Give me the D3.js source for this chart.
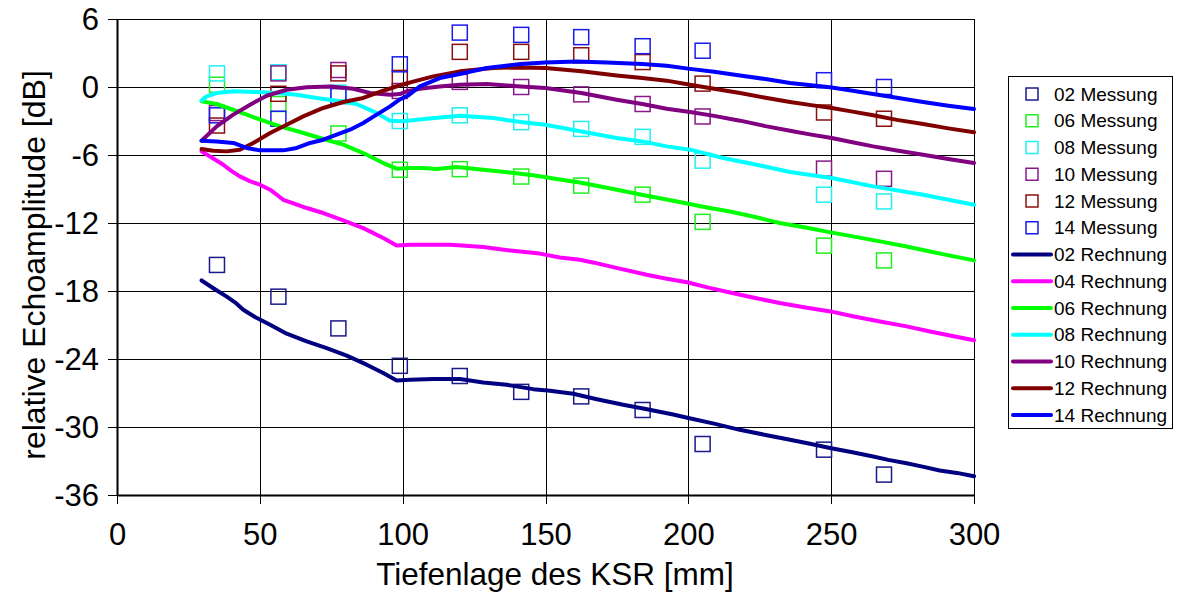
<!DOCTYPE html>
<html>
<head>
<meta charset="utf-8">
<script src="https://cdn.jsdelivr.net/npm/d3@7"></script>
<style>
  html, body { margin: 0; padding: 0; background: #fff; }
  svg { display: block; font-family: "Liberation Sans", Arial, sans-serif; }
</style>
</head>
<body>
<svg id="chart" width="1180" height="595"></svg>
<script>
// Depth positions of the measurements [mm]
const depthMeas = [35, 56.5, 77.5, 99, 120, 141.5, 162.5, 184, 205, 247.5, 268.5];

// Measured echo amplitudes [dB]
const mess02 = [-15.7, -18.5, -21.3, -24.6, -25.5, -26.9, -27.3, -28.5, -31.5, -32.0, -34.2];
const mess06 = [0.2, -1.5, -4.1, -7.3, -7.25, -7.9, -8.7, -9.5, -11.9, -14.0, -15.3];
const mess08 = [1.2, 1.3, -0.5, -3.0, -2.5, -3.1, -3.7, -4.4, -6.5, -9.5, -10.1];
const mess10 = [-2.3, 1.2, 1.5, -0.35, 0.45, 0.0, -0.65, -1.5, -2.6, -7.2, -8.1];
const mess12 = [-3.4, -0.6, 1.2, 0.8, 3.1, 3.1, 2.8, 2.2, 0.3, -2.25, -2.8];
const mess14 = [-2.5, -2.8, -0.8, 2.0, 4.8, 4.6, 4.4, 3.6, 3.2, 0.6, 0.0];

// Calculated curves: [depth mm, amplitude dB]
const rech02 = [[29.6,-17.07],[34,-17.8],[38.4,-18.5],[41.3,-19.0],[44.2,-19.66],[48.3,-20.3],[53.6,-20.98],[59.4,-21.77],[66.4,-22.45],[73.4,-23.04],[80.4,-23.7],[87.4,-24.5],[93.2,-25.24],[97.9,-25.9],[102.6,-25.83],[110.7,-25.77],[120,-25.77],[128.2,-26.07],[136.4,-26.28],[145.7,-26.66],[151.6,-26.8],[159.7,-27.07],[168,-27.55],[177.2,-28.04],[186,-28.45],[194.7,-28.9],[200,-29.2],[209,-29.7],[218,-30.25],[227,-30.7],[235.6,-31.13],[243,-31.5],[250,-31.87],[257,-32.2],[264.7,-32.6],[270,-32.9],[276.4,-33.2],[282,-33.5],[288,-33.84],[294,-34.05],[300,-34.35]];
const rech04 = [[29.6,-5.68],[33,-6.2],[37.2,-6.86],[40,-7.4],[43,-7.89],[46.5,-8.3],[50,-8.62],[53.6,-9.06],[58.2,-9.95],[62,-10.3],[66.4,-10.68],[72.2,-11.12],[79.2,-11.77],[86.2,-12.45],[93.2,-13.33],[97.9,-13.98],[102.6,-13.92],[110,-13.92],[116.6,-13.92],[122,-14.0],[128.2,-14.12],[137.6,-14.42],[148,-14.7],[155,-15.05],[162,-15.24],[167,-15.5],[173.7,-15.89],[185.4,-16.57],[192,-16.9],[200,-17.25],[207,-17.7],[214.6,-18.13],[223,-18.6],[232,-19.06],[241,-19.45],[249.8,-19.8],[258,-20.25],[267.1,-20.69],[276,-21.1],[284.6,-21.57],[292,-21.95],[300,-22.35]];
const rech06 = [[29.6,-1.27],[34.9,-1.5],[39.6,-1.92],[45.4,-2.44],[51.2,-2.97],[57.1,-3.47],[64.1,-3.97],[72.2,-4.59],[79.2,-5.09],[86.2,-5.83],[93.2,-6.71],[97.9,-7.21],[102.6,-7.15],[107.2,-7.15],[111.9,-7.24],[118.9,-7.06],[128.2,-7.3],[137.6,-7.54],[146.9,-7.83],[153.9,-8.12],[162,-8.42],[173.7,-9.0],[185.4,-9.59],[192,-9.9],[200,-10.3],[207,-10.65],[214.6,-10.98],[223,-11.45],[232,-12.0],[241,-12.4],[249.8,-12.83],[258,-13.2],[267.1,-13.62],[276,-14.05],[284.6,-14.51],[292,-14.9],[300,-15.3]];
const rech08 = [[29.6,-1.2],[31.4,-0.83],[34.9,-0.53],[40.7,-0.38],[48.9,-0.44],[55.9,-0.53],[62.9,-0.68],[69.9,-0.97],[76.9,-1.21],[83.8,-1.5],[89.7,-2.15],[95.6,-2.97],[100.2,-3.03],[108.4,-2.8],[120,-2.53],[131.7,-2.74],[141.3,-3.09],[150,-3.33],[162.6,-3.92],[174.9,-4.5],[183.9,-4.8],[192.4,-5.24],[200.6,-5.53],[212.2,-6.27],[223.9,-6.86],[235.6,-7.5],[250.2,-8.03],[264.7,-8.77],[282.2,-9.5],[291,-9.95],[300,-10.39]];
const rech10 = [[29.6,-4.74],[34.9,-3.47],[40.7,-2.44],[46.6,-1.56],[52.4,-0.77],[59.4,-0.24],[66.4,-0.03],[74.6,0.05],[82.7,-0.15],[88.6,-0.53],[95.6,-0.68],[99,-0.62],[101.4,-0.38],[106,-0.15],[113,0.05],[120,0.2],[129.4,0.26],[141.3,0.05],[150,-0.09],[162.6,-0.53],[174.9,-1.12],[183.9,-1.5],[192.4,-1.92],[200.6,-2.2],[209,-2.55],[218.1,-2.97],[227,-3.45],[235.6,-3.86],[243,-4.2],[250.2,-4.5],[257,-4.85],[264.7,-5.24],[273,-5.6],[282.2,-5.98],[291,-6.35],[300,-6.71]];
const rech12 = [[29.6,-5.47],[33.7,-5.62],[38.4,-5.68],[43,-5.53],[47.7,-4.94],[53.6,-4.06],[59.4,-3.33],[65.2,-2.59],[72.2,-1.85],[79.2,-1.32],[86.2,-0.97],[93.2,-0.33],[99,0.15],[104,0.5],[110.7,0.94],[120,1.38],[131.7,1.68],[141.3,1.73],[150,1.68],[162.6,1.38],[174.9,1.02],[183.9,0.79],[192.4,0.56],[200.6,0.2],[209,-0.15],[218.1,-0.53],[227,-0.95],[235.6,-1.32],[243,-1.6],[250.2,-1.85],[257,-2.15],[264.7,-2.5],[273,-2.9],[282.2,-3.27],[291,-3.65],[300,-4.0]];
const rech14 = [[29.6,-4.74],[34.9,-4.8],[40.7,-4.94],[45.4,-5.38],[50,-5.59],[58.2,-5.59],[62.9,-5.38],[67.6,-4.94],[72.2,-4.65],[76.9,-4.21],[81.6,-3.77],[86.2,-3.18],[90.9,-2.44],[95.6,-1.71],[99,-1.1],[102,-0.74],[106,0.05],[113,0.79],[120,1.15],[129.4,1.68],[141.3,2.03],[150,2.17],[160.9,2.26],[171.4,2.17],[183.9,2.03],[192.4,1.88],[200.6,1.6],[209,1.35],[218.1,1.02],[227,0.7],[235.6,0.35],[243,0.15],[250.2,-0.04],[257,-0.3],[264.7,-0.62],[273,-0.95],[282.2,-1.32],[291,-1.65],[300,-1.94]];

const xTicks = [0, 50, 100, 150, 200, 250, 300];
const yTicks = [6, 0, -6, -12, -18, -24, -30, -36];

const measSeries = [
  { name: "02 Messung", values: mess02, color: "#1a1a8c" },
  { name: "06 Messung", values: mess06, color: "#22ee22" },
  { name: "08 Messung", values: mess08, color: "#22f0f0" },
  { name: "10 Messung", values: mess10, color: "#8a1a8a" },
  { name: "12 Messung", values: mess12, color: "#8a1010" },
  { name: "14 Messung", values: mess14, color: "#1a1aee" }
];
const calcSeries = [
  { name: "02 Rechnung", values: rech02, color: "#000080" },
  { name: "04 Rechnung", values: rech04, color: "#ff00ff" },
  { name: "06 Rechnung", values: rech06, color: "#00ff00" },
  { name: "08 Rechnung", values: rech08, color: "#00ffff" },
  { name: "10 Rechnung", values: rech10, color: "#800080" },
  { name: "12 Rechnung", values: rech12, color: "#800000" },
  { name: "14 Rechnung", values: rech14, color: "#0000ff" }
];

const svg = d3.select("#chart");
const plot = { left: 117, right: 974, top: 19, bottom: 495 };

const x = d3.scaleLinear().domain([0, 300]).range([plot.left, plot.right]);
const y = d3.scaleLinear().domain([-36, 6]).range([plot.bottom, plot.top]);

// Grid
const grid = svg.append("g").attr("shape-rendering", "crispEdges");
grid.selectAll("line.h").data(yTicks).join("line")
  .attr("x1", plot.left).attr("x2", plot.right)
  .attr("y1", d => Math.round(y(d)) + 0.5).attr("y2", d => Math.round(y(d)) + 0.5)
  .attr("stroke", "#000").attr("stroke-width", 1);
grid.selectAll("line.v").data(xTicks.slice(1)).join("line")
  .attr("y1", plot.top).attr("y2", plot.bottom)
  .attr("x1", d => Math.round(x(d)) + 0.5).attr("x2", d => Math.round(x(d)) + 0.5)
  .attr("stroke", "#000").attr("stroke-width", 1);

// Axes (plain hyphen-minus in the tick labels)
const fmt = d => String(d);
const xAxis = svg.append("g")
  .attr("transform", `translate(0,${plot.bottom})`)
  .call(d3.axisBottom(x).tickValues(xTicks).tickFormat(fmt).tickSize(9).tickPadding(12).tickSizeOuter(0));
const yAxis = svg.append("g")
  .attr("transform", `translate(${plot.left},0)`)
  .call(d3.axisLeft(y).tickValues(yTicks).tickFormat(fmt).tickSize(9).tickPadding(9).tickSizeOuter(0));
[xAxis, yAxis].forEach(a => {
  a.select(".domain").attr("stroke", "#000").attr("stroke-width", 2);
  a.selectAll(".tick line").attr("stroke", "#000").attr("stroke-width", 1).attr("shape-rendering", "crispEdges");
  a.selectAll(".tick text").attr("fill", "#000").attr("font-size", 31)
    .attr("font-family", "'Liberation Sans', Arial, sans-serif");
});
xAxis.selectAll(".tick text").attr("dy", "0.95em");
yAxis.selectAll(".tick text").attr("dy", "0.35em");

// Axis titles
svg.append("text")
  .attr("x", 555).attr("y", 585)
  .attr("text-anchor", "middle")
  .attr("font-size", 31.5)
  .text("Tiefenlage des KSR [mm]");
svg.append("text")
  .attr("transform", `translate(45,${(plot.top + plot.bottom) / 2 + 8}) rotate(-90)`)
  .attr("text-anchor", "middle")
  .attr("font-size", 32)
  .text("relative Echoamplitude [dB]");

// Measurement markers
const mSize = 15;
measSeries.forEach(s => {
  svg.append("g").selectAll("rect").data(s.values).join("rect")
    .attr("x", (d, i) => x(depthMeas[i]) - mSize / 2)
    .attr("y", d => y(d) - mSize / 2)
    .attr("width", mSize).attr("height", mSize)
    .attr("fill", "none").attr("stroke", s.color).attr("stroke-width", 1.5);
});

// Calculated curves
const line = d3.line().x(d => x(d[0])).y(d => y(d[1]));
calcSeries.forEach(s => {
  svg.append("path").datum(s.values)
    .attr("d", line)
    .attr("fill", "none").attr("stroke", s.color)
    .attr("stroke-width", 4).attr("stroke-linejoin", "round").attr("stroke-linecap", "round");
});

// Legend
const legend = svg.append("g");
legend.append("rect")
  .attr("x", 1008.5).attr("y", 76.5).attr("width", 164).attr("height", 352)
  .attr("fill", "#fff").attr("stroke", "#000").attr("stroke-width", 1);
const legendItems = measSeries.map(s => ({ name: s.name, color: s.color, type: "m" }))
  .concat(calcSeries.map(s => ({ name: s.name, color: s.color, type: "l" })));
const item = legend.selectAll("g.item").data(legendItems).join("g")
  .attr("transform", (d, i) => `translate(0,${94 + i * 26.75})`);
item.filter(d => d.type === "m").append("rect")
  .attr("x", 1026).attr("y", -6).attr("width", 12).attr("height", 12)
  .attr("fill", "none").attr("stroke", d => d.color).attr("stroke-width", 1.5);
item.filter(d => d.type === "l").append("line")
  .attr("x1", 1013).attr("x2", 1051).attr("y1", 0).attr("y2", 0)
  .attr("stroke", d => d.color).attr("stroke-width", 4).attr("stroke-linecap", "round");
item.append("text")
  .attr("x", 1054).attr("y", 0).attr("dy", "0.35em")
  .attr("font-size", 19)
  .text(d => d.name);
</script>
</body>
</html>
